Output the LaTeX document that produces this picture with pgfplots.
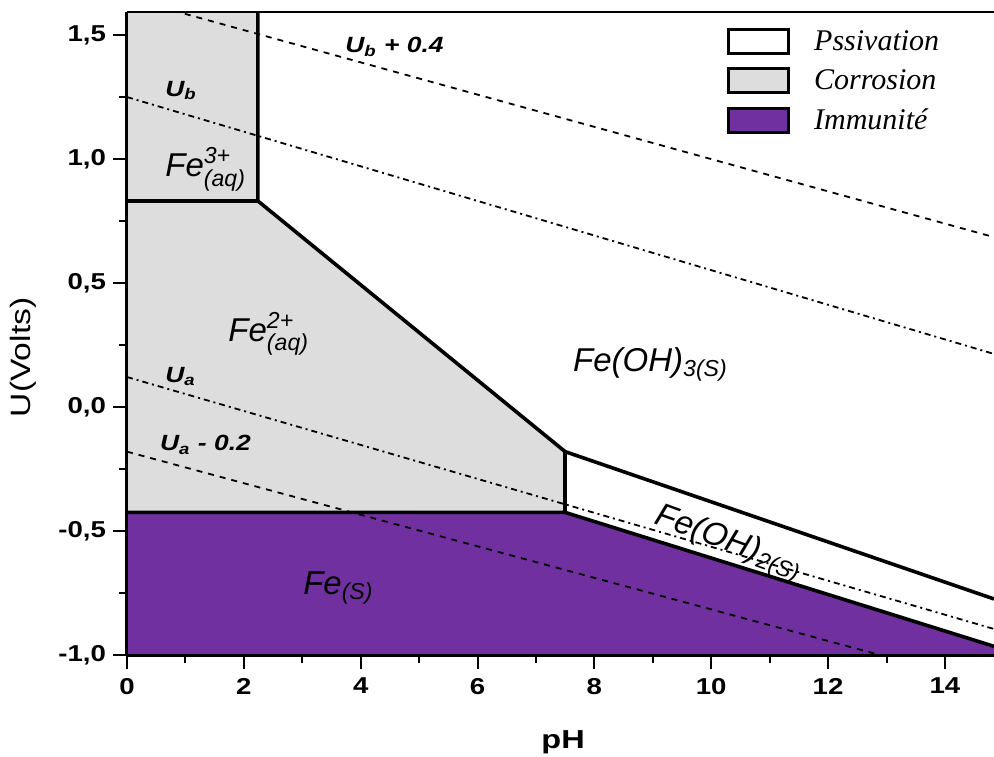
\documentclass[border=0pt]{standalone}
\usepackage{fontspec}
\setmainfont{Liberation Serif}
\newfontfamily\arial{Liberation Sans}
\usepackage{amsmath}
\usepackage{graphicx}
\usepackage{pgfplots}
\pgfplotsset{compat=1.18}
\definecolor{corr}{RGB}{221,221,221}
\definecolor{immu}{RGB}{112,48,160}
\newcommand\lab{\fontsize{16.5}{18}\selectfont\arial\itshape}
\newcommand\ulab{\fontsize{11}{12}\selectfont\arial\bfseries\itshape}
\begin{document}
\begin{tikzpicture}
\begin{axis}[
  at={(0pt,0pt)}, anchor=south west,
  scale only axis, width=433.5pt, height=321.5pt,
  xmin=0, xmax=14.84, ymin=-1, ymax=1.593,
  axis x line*=bottom, axis y line*=left,
  axis line style={-, line width=1.5pt},
  axis on top,
  xtick={0,2,...,14}, minor x tick num=1,
  ytick={-1,-0.5,0,0.5,1,1.5}, minor y tick num=1,
  tick align=outside,
  major tick length=7pt, minor tick length=4pt,
  every tick/.style={black, line width=1pt},
  xticklabel style={font=\fontsize{11.5}{12}\selectfont\arial\bfseries, yshift=-1pt},
  yticklabel style={font=\fontsize{11.5}{12}\selectfont\arial\bfseries},
  xticklabel={\scalebox{1.2}[1]{\pgfmathprintnumber[assume math mode=true]{\tick}}},
  yticklabel={\scalebox{1.2}[1]{\pgfmathprintnumber[fixed,fixed zerofill,precision=1,use comma,assume math mode=true]{\tick}}},
  xlabel={\scalebox{1.25}[1]{pH}},
  xlabel style={font=\fontsize{13}{14}\selectfont\arial\bfseries, at={(axis description cs:0.503,-0.135)}, anchor=center},
  ylabel={\scalebox{1.2}[1]{U(Volts)}},
  ylabel style={font=\fontsize{14}{15}\selectfont\arial, at={(axis description cs:-0.12,0.463)}, anchor=center},
  legend style={at={(rel axis cs:0.692,0.975)}, anchor=north west, draw=none, fill=none,
    inner sep=0pt, row sep=6pt, font=\fontsize{15}{15}\selectfont\itshape,
    nodes={inner sep=1pt},
    /tikz/every odd column/.append style={column sep=11pt}},
  legend cell align=left,
  legend image code/.code={\draw[#1, line width=1.4pt] (0pt,-6pt) rectangle (30pt,6pt);},
]
% regions
\addplot[fill=corr, draw=none, forget plot] coordinates {(0,0.831) (2.24,0.831) (2.24,1.7) (0,1.7)} -- cycle;
\addplot[fill=corr, draw=none, forget plot] coordinates {(0,-0.425) (7.5,-0.425) (7.5,-0.18) (2.24,0.831) (0,0.831)} -- cycle;
\addplot[fill=immu, draw=none, forget plot] coordinates {(0,-1) (14.84,-1) (14.84,-0.965) (7.5,-0.425) (0,-0.425)} -- cycle;
% water lines
\addplot[black, line width=0.9pt, dash pattern=on 3pt off 3pt, forget plot] coordinates {(0,1.65) (14.84,0.685)};
\addplot[black, line width=0.9pt, dash pattern=on 3pt off 2pt on 1pt off 2pt, forget plot] coordinates {(0,1.25) (14.84,0.214)};
\addplot[black, line width=0.9pt, dash pattern=on 3pt off 2pt on 1pt off 2pt, forget plot] coordinates {(0,0.121) (14.84,-0.895)};
\addplot[black, line width=0.9pt, dash pattern=on 3pt off 3pt, forget plot] coordinates {(0,-0.18) (14.84,-1.124)};
% boundaries
\addplot[black, line width=1.8pt, forget plot] coordinates {(0,0.831) (2.24,0.831)};
\addplot[black, line width=1.8pt, forget plot] coordinates {(2.24,1.7) (2.24,0.831) (7.5,-0.18) (14.84,-0.774)};
\addplot[black, line width=1.8pt, forget plot] coordinates {(7.5,-0.18) (7.5,-0.425)};
\addplot[black, line width=1.8pt, forget plot] coordinates {(0,-0.425) (7.5,-0.425) (14.84,-0.965)};
% legend
\addlegendimage{fill=white, draw=black}
\addlegendentry{Pssivation}
\addlegendimage{fill=corr, draw=black}
\addlegendentry{Corrosion}
\addlegendimage{fill=immu, draw=black}
\addlegendentry{Immunité}
% labels
\node[anchor=base west, inner sep=0pt, font=\lab] at (axis cs:0.65,0.93) {Fe$^{\text{3+}}_{\text{(aq)}}$};
\node[anchor=base west, inner sep=0pt, font=\lab] at (axis cs:1.73,0.266) {Fe$^{\text{2+}}_{\text{(aq)}}$};
\node[anchor=base west, inner sep=0pt, font=\lab] at (axis cs:7.63,0.145) {Fe(OH)$_{\text{3(S)}}$};
\node[anchor=base west, inner sep=0pt, font=\lab, rotate=-20] at (axis cs:9.0,-0.47) {Fe(OH)$_{\text{2(S)}}$};
\node[anchor=base west, inner sep=0pt, font=\lab] at (axis cs:3.01,-0.754) {Fe$_{\text{(S)}}$};
\node[anchor=base west, inner sep=0pt, font=\ulab] at (axis cs:3.73,1.43) {\scalebox{1.2}[1]{U$_{\text{b}}$ + 0.4}};
\node[anchor=base west, inner sep=0pt, font=\ulab] at (axis cs:0.65,1.254) {\scalebox{1.2}[1]{U$_{\text{b}}$}};
\node[anchor=base west, inner sep=0pt, font=\ulab] at (axis cs:0.65,0.10) {\scalebox{1.2}[1]{U$_{\text{a}}$}};
\node[anchor=base west, inner sep=0pt, font=\ulab] at (axis cs:0.56,-0.177) {\scalebox{1.2}[1]{U$_{\text{a}}$ - 0.2}};
\draw[line width=0.8pt] (rel axis cs:0,1) -- (rel axis cs:1,1);
\end{axis}
\pgfresetboundingbox
\path (-63.5pt,-50.5pt) rectangle (433.5pt,327.5pt);
\end{tikzpicture}
\end{document}
